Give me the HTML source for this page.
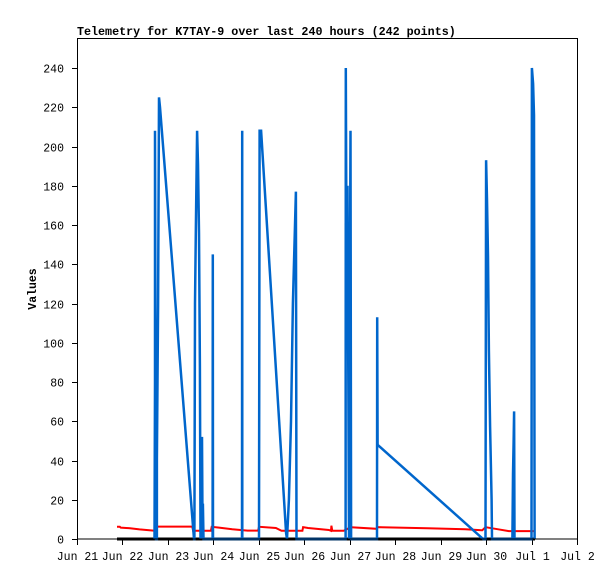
<!DOCTYPE html>
<html><head><meta charset="utf-8"><style>
html,body{margin:0;padding:0;background:#fff;}
svg{display:block;font-family:"Liberation Mono","DejaVu Sans Mono",monospace;}
</style></head><body>
<svg id="chart" width="615" height="579" viewBox="0 0 615 579" xmlns="http://www.w3.org/2000/svg">
<rect x="0" y="0" width="615" height="579" fill="#fff"/>
<text x="77" y="35" font-size="11.7" font-weight="bold">Telemetry for K7TAY-9 over last 240 hours (242 points)</text>
<text transform="translate(36,289) rotate(-90)" text-anchor="middle" font-size="11.5" font-weight="bold">Values</text>
<g id="axes"></g>
<g id="series"></g>
<rect x="77.5" y="38.5" width="500" height="500.5" fill="none" stroke="#000" stroke-width="1"/>
</svg>
<script>
const xTickLabels = ["Jun 21","Jun 22","Jun 23","Jun 24","Jun 25","Jun 26","Jun 27","Jun 28","Jun 29","Jun 30","Jul 1","Jul 2"];
const yTickValues = [0,20,40,60,80,100,120,140,160,180,200,220,240];
// hours since Jun 21 00:00
const blueHours = [40.9,41.2,41.2,41.7,42.2,42.2,42.8,43.3,43.8,61.8,62.0,62.3,62.8,63.4,63.9,64.4,64.9,65.2,66.0,66.3,66.5,66.8,71.6,71.7,71.8,87.1,87.2,87.3,96.1,96.4,97.2,110.4,110.9,111.9,113.0,114.0,115.1,115.6,115.9,141.8,141.9,142.3,142.8,143.6,144.4,144.7,158.4,158.5,158.7,214.4,215.7,216.0,216.5,217.0,217.5,218.1,218.9,219.1,229.9,230.2,230.5,230.8,231.0,240.0,240.2,240.8,241.3,241.6];
const blueValues = [0,80,208,0,0,41,120,225,220,0,0,120,160,208,191,156,88,0,52,0,18,0,0,145,0,0,208,0,0,208,208,3,0,20,60,120,160,177,0,0,240,145,180,0,208,0,0,113,48,0,0,193,173,144,96,57,20,0,0,33,49,65,0,0,240,232,216,0];
const redHours = [21.1,22.6,23.1,28,33,40.4,41.7,41.8,60.9,61.3,70.7,71.1,75,82,90,95.6,96.1,105,108,119,119.4,122,133,134.1,134.3,134.8,140.8,144.4,144.8,158.2,158.5,185,205,213.7,214,215.7,222,228,241.8];
const redValues = [6.2,6.2,5.8,5.5,4.9,4.3,4.5,6.3,6.3,4.2,4.2,6.2,5.8,5,4.3,4.3,6.2,5.6,4.2,4.2,6,5.6,4.6,4.2,6.8,4.2,4.2,6,6,5.2,6,5.5,5,4.5,4.5,6,5,4,4];
const blackHours = [21.1,241.8];
const blackValues = [0,0];

const X0=77,X1=577,Y0=539,Y1=68;
function xScale(h){return X0+h*(X1-X0)/264;}
function yScale(v){return Y0-v*(Y0-Y1)/240;}
const NS="http://www.w3.org/2000/svg";
const axes=document.getElementById('axes');
const ser=document.getElementById('series');
function mk(tag,attrs,parent){const e=document.createElementNS(NS,tag);for(const k in attrs)e.setAttribute(k,attrs[k]);parent.appendChild(e);return e;}

xTickLabels.forEach((lab,i)=>{
  const x=Math.round(xScale(i*24))+0.5;
  const t=mk('line',{x1:x,x2:x,y1:539,y2:545,stroke:'#000'},axes);
  
  
  const tx=mk('text',{x:x,y:560,'text-anchor':'middle','font-size':'11.5'},axes);
  tx.textContent=lab;
  
  
});
yTickValues.forEach(v=>{
  const y=Math.round(yScale(v))+0.5;
  const t=mk('line',{x1:72,x2:77,y1:y,y2:y,stroke:'#000'},axes);
  
  
  const tx=mk('text',{x:64,y:y+4,'text-anchor':'end','font-size':'11.5'},axes);
  tx.textContent=String(v);
  
  
});
function pts(hs,vs){return hs.map((h,i)=>xScale(h).toFixed(1)+','+yScale(vs[i]).toFixed(1)).join(' ');}
const bl=mk('polyline',{points:pts(blackHours,blackValues),fill:'none',stroke:'#000','stroke-width':3},ser);


const rl=mk('polyline',{points:pts(redHours,redValues),fill:'none',stroke:'#ff0000','stroke-width':2},ser);


const bu=mk('polyline',{points:pts(blueHours,blueValues),fill:'none',stroke:'#0066cc','stroke-width':2.5,'stroke-linejoin':'miter'},ser);


</script>
</body></html>
